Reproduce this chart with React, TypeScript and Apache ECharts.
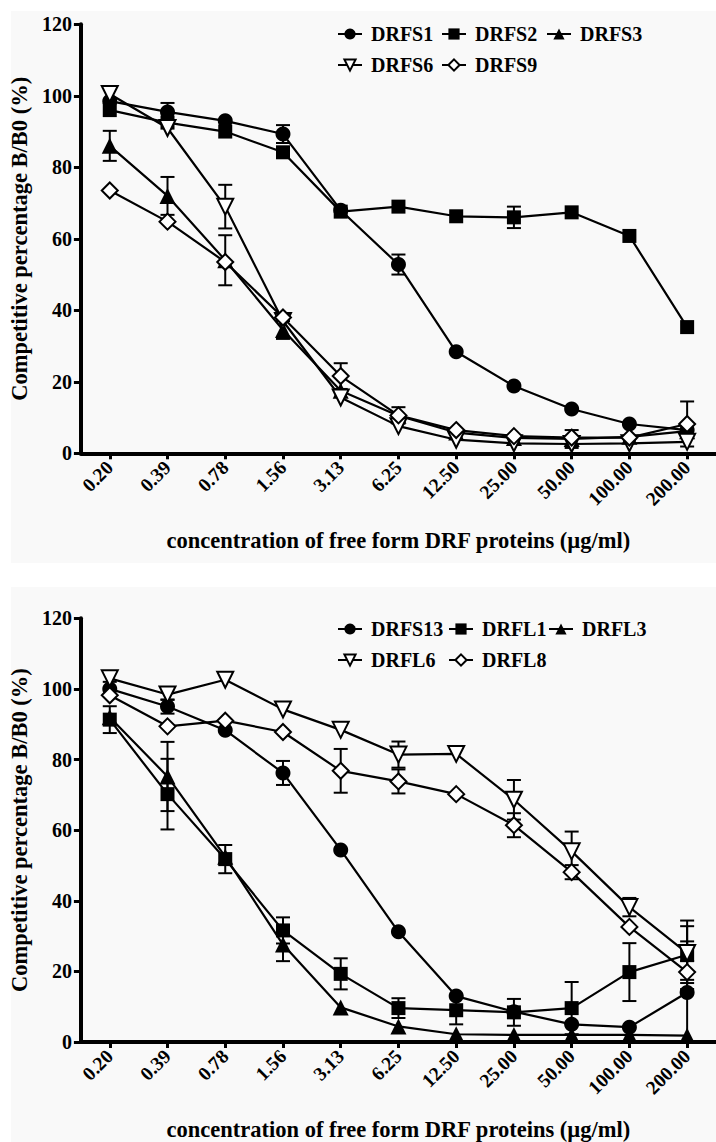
import React, { useEffect, useRef } from 'react';
import * as echarts from 'echarts';

const CATEGORIES = ['0.20', '0.39', '0.78', '1.56', '3.13', '6.25', '12.50', '25.00', '50.00', '100.00', '200.00'];
const Y_TICKS_MAX = 120;
const Y_INTERVAL = 20;

// Top panel series
const DRFS1 = [98.5, 95.5, 93, 89.3, 68, 52.8, 28.4, 18.8, 12.4, 8.2, 6.5];
const DRFS2 = [96, 92.5, 90, 84.2, 67.6, 69, 66.3, 66, 67.4, 60.8, 35.3];
const DRFS3 = [86, 72, 54, 34.5, 17.5, 10.5, 5.8, 4.3, 4.0, 4.6, 6.2];
const DRFS6 = [100.5, 91, 69, 37, 15.6, 7.6, 3.8, 2.8, 2.6, 2.8, 3.2];
const DRFS9 = [73.5, 64.8, 53.5, 38, 21.6, 10.6, 6.5, 4.8, 4.4, 4.4, 8.2];
const DRFS1_ERR = [0, 2.5, 0, 2.5, 0, 2.8, 0, 0, 0, 0, 0];
const DRFS2_ERR = [0, 0, 0, 0, 0, 0, 0, 3, 0, 0, 0];
const DRFS3_ERR = [4.2, 5.3, 7, 2.5, 0, 0, 0, 0, 2.5, 0, 0];
const DRFS6_ERR = [0, 0, 6.1, 0, 0, 0, 0, 0, 0, 0, 0];
const DRFS9_ERR = [0, 0, 0, 0, 3.6, 2.3, 0, 0, 0, 0, 6.3];

// Bottom panel series
const DRFS13 = [100, 95, 88.3, 76.2, 54.4, 31.2, 13, 8.6, 5, 4.2, 14];
const DRFL1 = [91.3, 70.2, 51.8, 31.6, 19.3, 9.6, 9, 8.4, 9.6, 19.8, 24.7];
const DRFL3 = [92, 75.2, 52.5, 27.6, 9.8, 4.4, 2.2, 2, 2, 2, 1.8];
const DRFL6 = [103, 98.4, 102.6, 94.2, 88.4, 81.4, 81.6, 68.6, 54, 38.2, 25.2];
const DRFL8 = [98.2, 89.4, 91, 87.8, 76.8, 73.8, 70.2, 61.4, 48.1, 32.6, 19.8];
const DRFS13_ERR = [2, 2, 0, 3.4, 0, 0, 0, 0, 0, 0, 14.5];
const DRFL1_ERR = [3.8, 10, 4, 3.7, 4.4, 2.8, 4, 3.8, 7.4, 8.2, 9.7];
const DRFL3_ERR = [0, 9.8, 0, 4.7, 0, 0, 0, 0, 0, 0, 0];
const DRFL6_ERR = [0, 1.5, 0, 0, 0, 3.7, 0, 5.6, 5.6, 2.6, 7.6];
const DRFL8_ERR = [0, 0, 0, 0, 6.2, 3.4, 0, 3.4, 2, 0, 3.1];

const TOP_NAMES = ['DRFS1', 'DRFS2', 'DRFS3', 'DRFS6', 'DRFS9'];
const TOP_VALUES = [DRFS1, DRFS2, DRFS3, DRFS6, DRFS9];
const TOP_ERRS = [DRFS1_ERR, DRFS2_ERR, DRFS3_ERR, DRFS6_ERR, DRFS9_ERR];
const BOTTOM_NAMES = ['DRFS13', 'DRFL1', 'DRFL3', 'DRFL6', 'DRFL8'];
const BOTTOM_VALUES = [DRFS13, DRFL1, DRFL3, DRFL6, DRFL8];
const BOTTOM_ERRS = [DRFS13_ERR, DRFL1_ERR, DRFL3_ERR, DRFL6_ERR, DRFL8_ERR];

const X_TITLE = 'concentration of free form DRF proteins (µg/ml)';
const Y_TITLE = 'Competitive percentage B/B0 (%)';

const FONT = "'Liberation Serif', 'DejaVu Serif', serif";

const MARKERS = [
  { symbol: 'circle', size: 15, rotate: 0, open: false },
  { symbol: 'rect', size: 14, rotate: 0, open: false },
  { symbol: 'triangle', size: 16, rotate: 0, open: false },
  { symbol: 'triangle', size: 16, rotate: 180, open: true },
  { symbol: 'diamond', size: 16, rotate: 0, open: true },
];

function lineSeries(names: string[], values: number[][], idx: number) {
  return names.map((name, i) => {
    const m = MARKERS[i];
    return {
      type: 'line',
      name,
      xAxisIndex: idx,
      yAxisIndex: idx,
      data: values[i],
      symbol: m.symbol,
      symbolSize: m.size,
      symbolRotate: m.rotate,
      showAllSymbol: true,
      z: 3,
      lineStyle: { color: '#000', width: 2.2 },
      itemStyle: m.open
        ? { color: '#fff', borderColor: '#000', borderWidth: 2 }
        : { color: '#000', borderColor: '#000', borderWidth: 0 },
      emphasis: { disabled: true },
    };
  });
}

function errorSeries(errs: number[][], values: number[][], idx: number) {
  const data: number[][] = [];
  errs.forEach((arr, s) => {
    arr.forEach((e, j) => {
      if (e > 0) data.push([j, values[s][j], e]);
    });
  });
  return {
    type: 'custom',
    xAxisIndex: idx,
    yAxisIndex: idx,
    z: 2,
    silent: true,
    data,
    renderItem: (params: any, api: any) => {
      const x = api.value(0);
      const y = api.value(1);
      const e = api.value(2);
      const top = api.coord([x, y + e]);
      const bot = api.coord([x, Math.max(0, y - e)]);
      const hw = 7;
      const st = { stroke: '#000', lineWidth: 2 };
      return {
        type: 'group',
        children: [
          { type: 'line', shape: { x1: top[0], y1: top[1], x2: bot[0], y2: bot[1] }, style: st },
          { type: 'line', shape: { x1: top[0] - hw, y1: top[1], x2: top[0] + hw, y2: top[1] }, style: st },
          { type: 'line', shape: { x1: bot[0] - hw, y1: bot[1], x2: bot[0] + hw, y2: bot[1] }, style: st },
        ],
      };
    },
  };
}

const LEGEND_TOP_POS = [
  [337, 24], [441, 24], [546, 24], [337, 55], [441, 55],
];
const LEGEND_BOTTOM_POS = [
  [337, 619], [448, 619], [548, 619], [337, 650], [448, 650],
];

function legends(names: string[], pos: number[][]) {
  return names.map((n, i) => ({
    data: [n],
    left: pos[i][0],
    top: pos[i][1],
    padding: 0,
    itemWidth: 24,
    itemHeight: 14,
    selectedMode: false,
    textStyle: { fontFamily: FONT, fontWeight: 'bold', fontSize: 20, color: '#000', padding: [0, 0, 0, 4] },
  }));
}

function xAxis(idx: number) {
  return {
    type: 'category',
    gridIndex: idx,
    data: CATEGORIES,
    boundaryGap: true,
    name: X_TITLE,
    nameLocation: 'middle',
    nameGap: 76,
    nameTextStyle: { fontFamily: FONT, fontWeight: 'bold', fontSize: 22.5, color: '#000' },
    axisLine: { show: true, onZero: false, lineStyle: { color: '#000', width: 4 } },
    axisTick: { show: true, alignWithLabel: true, length: 6, lineStyle: { color: '#000', width: 3 } },
    axisLabel: {
      rotate: 45,
      margin: 11,
      interval: 0,
      fontFamily: FONT,
      fontWeight: 'bold',
      fontSize: 19.5,
      color: '#000',
    },
    splitLine: { show: false },
  };
}

function yAxis(idx: number) {
  return {
    type: 'value',
    gridIndex: idx,
    min: 0,
    max: Y_TICKS_MAX,
    interval: Y_INTERVAL,
    name: Y_TITLE,
    nameLocation: 'middle',
    nameRotate: 90,
    nameGap: 44,
    nameTextStyle: { fontFamily: FONT, fontWeight: 'bold', fontSize: 22.5, color: '#000' },
    axisLine: { show: true, lineStyle: { color: '#000', width: 4 } },
    axisTick: { show: true, length: 7, lineStyle: { color: '#000', width: 3 } },
    axisLabel: { margin: 9, fontFamily: FONT, fontWeight: 'bold', fontSize: 20, color: '#000' },
    splitLine: { show: false },
  };
}

export default function App() {
  const ref = useRef<HTMLDivElement>(null);
  useEffect(() => {
    if (!ref.current) return;
    const chart = echarts.init(ref.current, null, { renderer: 'svg' });
    const option = {
      animation: false,
      backgroundColor: '#fff',
      graphic: [
        { type: 'rect', z: -10, silent: true, shape: { x: 11, y: 11, width: 705, height: 552 }, style: { fill: '#f9f9f9' } },
        { type: 'rect', z: -10, silent: true, shape: { x: 11, y: 587, width: 705, height: 555 }, style: { fill: '#f9f9f9' } },
      ],
      legend: [...legends(TOP_NAMES, LEGEND_TOP_POS), ...legends(BOTTOM_NAMES, LEGEND_BOTTOM_POS)],
      grid: [
        { left: 80, top: 24.3, width: 643, height: 429, containLabel: false },
        { left: 80, top: 618.3, width: 643, height: 430.2, containLabel: false },
      ],
      xAxis: [xAxis(0), xAxis(1)],
      yAxis: [yAxis(0), yAxis(1)],
      series: [
        errorSeries(TOP_ERRS, TOP_VALUES, 0),
        ...lineSeries(TOP_NAMES, TOP_VALUES, 0),
        errorSeries(BOTTOM_ERRS, BOTTOM_VALUES, 1),
        ...lineSeries(BOTTOM_NAMES, BOTTOM_VALUES, 1),
      ],
    };
    chart.setOption(option as any);
    return () => chart.dispose();
  }, []);
  return <div ref={ref} style={{ position: 'absolute', left: 0, top: 0, width: 716, height: 1142 }} />;
}
